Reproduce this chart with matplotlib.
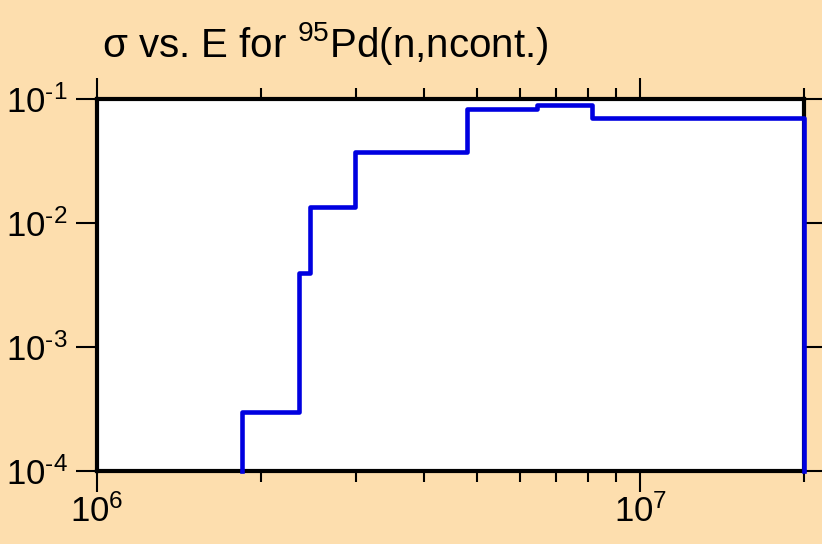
import numpy as np
import matplotlib
matplotlib.use("Agg")
import matplotlib.pyplot as plt
from matplotlib.ticker import LogLocator, NullLocator, FuncFormatter

plt.rcParams['font.family'] = ['Liberation Sans', 'DejaVu Sans']
plt.rcParams['mathtext.fontset'] = 'custom'
plt.rcParams['mathtext.rm'] = 'Liberation Sans'
plt.rcParams['mathtext.it'] = 'Liberation Sans:italic'
plt.rcParams['mathtext.bf'] = 'Liberation Sans:bold'

# bin edges (eV) and cross section (b)
edges = [1.85e6, 2.35e6, 2.47e6, 2.99e6, 4.79e6, 6.44e6, 8.16e6, 2.0e7]
sigma = [2.99e-4, 3.95e-3, 1.35e-2, 3.74e-2, 8.26e-2, 9.0e-2, 7.03e-2]
xlim = (1e6, 2e7)
ylim = (1e-4, 1e-1)

bg = "#fddeae"
fig = plt.figure(figsize=(8.22, 5.44), dpi=100, facecolor=bg)
ax = fig.add_axes([97/822, 1-471/544, (804-97)/822, (471-99)/544])
ax.set_facecolor("white")

# step outline, dropping to the floor at both ends
xs = [edges[0]]
ys = [ylim[0]]
for i in range(len(sigma)):
    xs += [edges[i], edges[i+1]]
    ys += [sigma[i], sigma[i]]
xs.append(edges[-1])
ys.append(ylim[0])
ax.plot(xs, ys, color="#0000e0", lw=3.3, clip_on=False, zorder=3)

ax.set_xscale("log")
ax.set_yscale("log")
ax.set_xlim(*xlim)
ax.set_ylim(*ylim)


def pow10(v, pos):
    e = int(round(np.log10(v)))
    return r"$\mathdefault{10^{%s}}$" % str(e).replace("-", "\u2010")


ax.xaxis.set_major_locator(LogLocator(base=10))
ax.xaxis.set_minor_locator(LogLocator(base=10, subs=np.arange(2, 10)))
ax.yaxis.set_major_locator(LogLocator(base=10))
ax.yaxis.set_minor_locator(NullLocator())
ax.xaxis.set_major_formatter(FuncFormatter(pow10))
ax.yaxis.set_major_formatter(FuncFormatter(pow10))

for s in ax.spines.values():
    s.set_linewidth(3.0)
ax.tick_params(which="both", direction="out", top=True, right=True,
               labeltop=False, labelright=False, width=1.5, colors="black",
               labelsize=25)
ax.tick_params(which="major", length=15)
ax.tick_params(which="minor", length=8)
ax.tick_params(axis="x", which="major", pad=2)
ax.tick_params(axis="y", which="major", pad=6)

fig.text(102/822, 1-57/544, r"σ vs. E for $^{95}$Pd(n,ncont.)", fontsize=29,
         ha="left", va="baseline")

plt.savefig("out.png", dpi=100, facecolor=bg)
